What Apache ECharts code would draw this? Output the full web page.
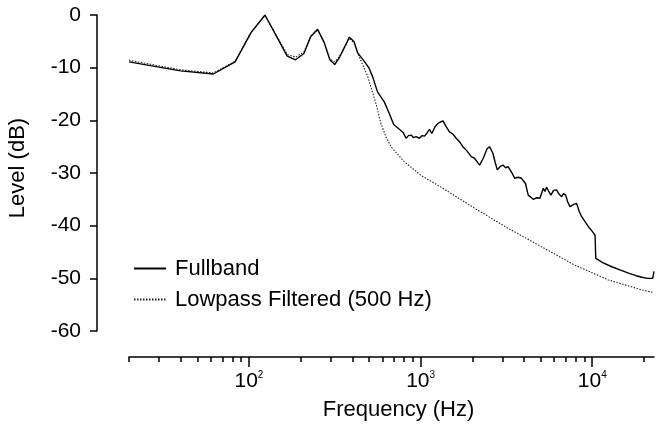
<!DOCTYPE html>
<html>
<head>
<meta charset="utf-8">
<script src="https://cdn.jsdelivr.net/npm/echarts@6/dist/echarts.min.js"></script>
<style>
  html, body { margin: 0; padding: 0; background: #fff; }
  #main { width: 661px; height: 427px; }
</style>
</head>
<body>
<div id="main"></div>
<script>
// Fullband spectrum (Hz, dB)
var freqFull = [20, 40, 62, 83, 103, 124, 167, 187, 209, 229, 251, 274, 296, 316, 335, 385, 410, 430, 470, 501,
  525, 561, 614, 657, 697, 752, 790, 823, 850, 880, 910, 941, 985, 1020, 1053, 1090, 1126, 1162, 1210, 1259,
  1310, 1349, 1409, 1473, 1540, 1612, 1680, 1763, 1860, 1972, 2061, 2109, 2206, 2310, 2360, 2440, 2523, 2641, 2720, 2798,
  2900, 3021, 3130, 3234, 3380, 3535, 3700, 3869, 4083, 4236, 4530, 4750, 4955, 5188, 5300, 5422, 5600, 5745, 5950, 6200,
  6400, 6637, 6800, 7000, 7200, 7420, 7590, 7850, 8110, 8400, 8675, 9100, 9500, 9900, 10390, 10480, 11500, 13000, 14500, 16270,
  18000, 19460, 21000, 22500, 22900];
var levelFull = [-8.9, -10.6, -11.2, -8.9, -3.3, 0, -7.8, -8.5, -7.3, -4.1, -2.7, -5.2, -8.5, -9.4, -8.2, -4.2, -5.1, -7.2, -8.8, -10.1,
  -11.7, -14.6, -16.5, -18.7, -20.8, -21.7, -22.3, -23.4, -22.9, -22.8, -23.3, -23.1, -23.4, -22.9, -23.0, -22.4, -21.7, -22.5, -21.3, -20.6,
  -20.3, -20.1, -21.2, -22.2, -22.6, -23.4, -24.0, -25.0, -25.8, -26.9, -27.2, -27.5, -28.5, -27.3, -27.0, -25.4, -25.0, -26.3, -28.0, -29.4,
  -28.8, -28.5, -29.0, -28.8, -29.8, -31.0, -30.8, -31.0, -32.0, -34.2, -35.0, -34.7, -34.8, -32.9, -33.5, -32.7, -33.6, -34.2, -33.3, -33.2,
  -34.0, -34.5, -33.9, -34.2, -35.5, -36.4, -36.7, -35.9, -35.8, -37.3, -38.3, -39.3, -40.2, -40.9, -41.8, -46.2, -47.0, -47.8, -48.4, -49.0,
  -49.5, -49.8, -50.0, -50.0, -48.7];

// Lowpass filtered (500 Hz)
var freqLow = [20, 40, 62, 83, 103, 124, 167, 187, 209, 229, 251, 274, 296, 316, 335, 385, 410, 437, 491, 549,
  587, 628, 672, 800, 1000, 1349, 2065, 3234, 5060, 7930, 12400, 19460, 22900];
var levelLow = [-8.6, -10.4, -11.0, -8.8, -3.3, -0.1, -7.5, -8.0, -7.0, -4.1, -2.8, -5.2, -8.3, -8.9, -8.0, -4.4, -5.4, -7.8, -11.6, -16.8,
  -20.6, -23.1, -25.0, -27.8, -30.4, -32.9, -36.7, -40.5, -44.0, -47.5, -50.3, -52.2, -52.7];

var minorTicks = [20, 30, 40, 50, 60, 70, 80, 90, 200, 300, 400, 500, 600, 700, 800, 900,
  2000, 3000, 4000, 5000, 6000, 7000, 8000, 9000, 20000];
var majorTicks = [100, 1000, 10000];
var yTicks = [-60, -50, -40, -30, -20, -10, 0];

var fMin = 20, fMax = 22900;
var font = 'Liberation Sans, Arial, sans-serif';

function pairs(xs, ys) {
  var out = [];
  for (var i = 0; i < xs.length; i++) out.push([xs[i], ys[i]]);
  return out;
}
function lg(v) { return Math.log10(v); }

var chart = echarts.init(document.getElementById('main'));
chart.setOption({
  animation: false,
  backgroundColor: '#fff',
  textStyle: { fontFamily: font },
  grid: { left: 129, right: 7, top: 15, bottom: 96, outerBoundsMode: 'none', containLabel: false },
  legend: {
    orient: 'vertical',
    left: 133,
    top: 257,
    padding: 0,
    itemWidth: 32,
    itemHeight: 14,
    itemGap: 8,
    itemStyle: { opacity: 0 },
    textStyle: { fontSize: 22, color: '#000', lineHeight: 23, padding: [0, 0, 0, 4] },
    data: ['Fullband', 'Lowpass Filtered (500 Hz)']
  },
  xAxis: [
    {
      // data axis (log scale)
      type: 'log', logBase: 10, min: fMin, max: fMax,
      position: 'bottom', offset: 26, show: false
    },
    {
      // axis line and minor ticks
      type: 'value', min: lg(fMin), max: lg(fMax),
      position: 'bottom', offset: 26,
      axisLine: { show: true, lineStyle: { color: '#000', width: 1.5 } },
      axisTick: { show: true, length: 5, lineStyle: { color: '#000', width: 1.5 },
        customValues: minorTicks.map(lg) },
      axisLabel: { show: false },
      splitLine: { show: false }
    },
    {
      // major ticks and labels
      type: 'value', min: lg(fMin), max: lg(fMax),
      position: 'bottom', offset: 26,
      name: 'Frequency (Hz)', nameLocation: 'middle', nameGap: 42, nameMoveOverlap: false,
      nameTextStyle: { fontSize: 22, color: '#000', padding: [0, 0, 0, 14] },
      axisLine: { show: false },
      axisTick: { show: true, length: 10, lineStyle: { color: '#000', width: 1.5 },
        customValues: majorTicks.map(lg) },
      axisLabel: {
        show: true, margin: 13,
        customValues: majorTicks.map(lg),
        formatter: function (v) { return '{a|10}{b|' + Math.round(v) + '}'; },
        rich: {
          a: { fontSize: 21, color: '#000', lineHeight: 22, fontFamily: font },
          b: { fontSize: 10, color: '#000', lineHeight: 10, verticalAlign: 'top', fontFamily: font }
        }
      },
      splitLine: { show: false }
    }
  ],
  yAxis: {
    type: 'value', min: -60, max: 0, interval: 10,
    offset: 32,
    name: 'Level (dB)', nameLocation: 'middle', nameGap: 68, nameMoveOverlap: false,
    nameTextStyle: { fontSize: 22, color: '#000', padding: [0, 0, 0, 10] },
    axisLine: { show: true, lineStyle: { color: '#000', width: 1.5 } },
    axisTick: { show: true, length: 7, lineStyle: { color: '#000', width: 1.5 } },
    axisLabel: { fontSize: 21, color: '#000', margin: 16,
      customValues: yTicks },
    splitLine: { show: false }
  },
  series: [
    {
      name: 'Fullband', type: 'line', xAxisIndex: 0,
      symbol: 'none', z: 3,
      lineStyle: { color: '#000', width: 1.4 },
      itemStyle: { color: '#000' },
      data: pairs(freqFull, levelFull)
    },
    {
      name: 'Lowpass Filtered (500 Hz)', type: 'line', xAxisIndex: 0,
      symbol: 'none', z: 2,
      lineStyle: { color: '#222', width: 1.1, type: [1.5, 1.5] },
      itemStyle: { color: '#222' },
      data: pairs(freqLow, levelLow)
    }
  ]
});
</script>
</body>
</html>
